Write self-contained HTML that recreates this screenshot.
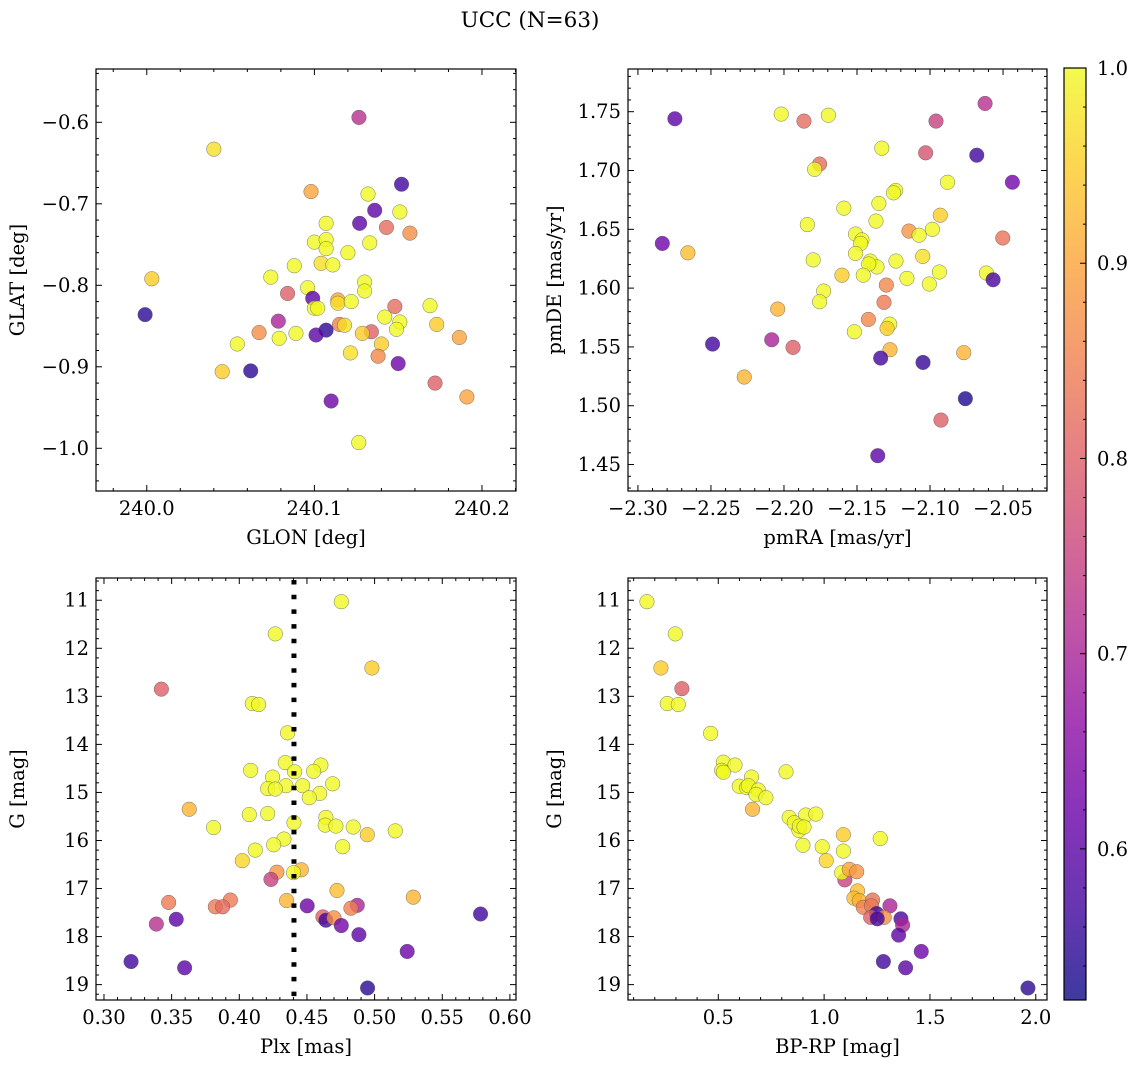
<!DOCTYPE html>
<html><head><meta charset="utf-8"><style>
html,body{margin:0;padding:0;background:#fff;}
svg{display:block;font-family:"DejaVu Serif","Liberation Serif",serif;}
</style></head><body>
<svg id="fig" width="1136" height="1068" viewBox="0 0 1136 1068" xmlns="http://www.w3.org/2000/svg">
<text x="530" y="27" font-size="21.5" text-anchor="middle">UCC (N=63)</text>
</svg>
<script>
// Panel 1: GLON vs GLAT
const glon = [240.1266,240.040,240.098,240.152,240.132,240.136,240.151,240.107,240.127,240.143,240.157,240.100,240.107,240.107,240.133,240.120,240.104,240.111,240.088,240.074,240.003,240.130,240.130,240.096,240.084,240.099,240.114,240.114,240.122,240.100,240.102,240.148,240.169,239.999,240.142,240.151,240.0785,240.173,240.115,240.118,240.107,240.149,240.134,240.1286,240.067,240.101,240.089,240.079,240.1865,240.140,240.054,240.1215,240.138,240.150,240.045,240.062,240.172,240.191,240.110,240.1265];
const glat = [-0.594,-0.633,-0.685,-0.676,-0.688,-0.708,-0.710,-0.724,-0.724,-0.729,-0.736,-0.747,-0.744,-0.755,-0.748,-0.760,-0.773,-0.775,-0.776,-0.790,-0.792,-0.796,-0.807,-0.803,-0.810,-0.816,-0.818,-0.822,-0.820,-0.828,-0.828,-0.826,-0.825,-0.836,-0.839,-0.845,-0.844,-0.848,-0.848,-0.849,-0.855,-0.854,-0.857,-0.859,-0.858,-0.861,-0.859,-0.865,-0.864,-0.872,-0.872,-0.883,-0.887,-0.896,-0.906,-0.905,-0.920,-0.937,-0.942,-0.993];
const prob1 = [0.72,0.97,0.9,0.57,1,0.6,1,1,0.6,0.82,0.87,1,1,1,1,1,0.97,1,1,1,0.95,1,1,1,0.8,0.6,0.9,0.97,1,1,1,0.82,1,0.55,1,1,0.7,0.95,0.85,0.97,0.55,1,0.8,0.95,0.87,0.6,1,1,0.9,0.95,1,0.97,0.86,0.62,0.95,0.55,0.8,0.9,0.62,1];
// Panel 2: pmRA vs pmDE
const pmra = [-2.2747,-2.2019,-2.1863,-2.1696,-2.0623,-2.0959,-2.133,-2.103,-2.068,-2.1756,-2.179,-2.0436,-2.088,-2.1235,-2.125,-2.135,-2.159,-2.093,-2.137,-2.184,-2.0984,-2.1144,-2.1075,-2.151,-2.1466,-2.1475,-2.0502,-2.2833,-2.2658,-2.151,-2.105,-2.180,-2.1409,-2.1233,-2.1363,-2.142,-2.0936,-2.0614,-2.1603,-2.1457,-2.1158,-2.0568,-2.1005,-2.1299,-2.1728,-2.1756,-2.1315,-2.2043,-2.1422,-2.1276,-2.1294,-2.1518,-2.2084,-2.1938,-2.2489,-2.1274,-2.0769,-2.1338,-2.1048,-2.2272,-2.0758,-2.0925,-2.1358];
const pmde = [1.744,1.748,1.742,1.747,1.757,1.742,1.719,1.715,1.713,1.7055,1.701,1.690,1.690,1.683,1.681,1.672,1.668,1.662,1.657,1.654,1.650,1.6485,1.645,1.646,1.641,1.638,1.6426,1.638,1.630,1.6295,1.627,1.624,1.623,1.623,1.618,1.6205,1.6137,1.6128,1.611,1.611,1.6083,1.6071,1.6035,1.6026,1.5975,1.5884,1.5879,1.5822,1.5734,1.5694,1.5658,1.5629,1.5561,1.5496,1.5524,1.5476,1.5451,1.5405,1.5368,1.5244,1.506,1.4878,1.4575];
const prob2 = [0.6,1,0.82,1,0.72,0.75,1,0.78,0.57,0.82,1,0.63,1,1,1,1,1,0.95,1,1,1,0.88,1,1,1,1,0.83,0.62,0.93,1,0.97,1,1,1,1,1,1,1,0.95,1,1,0.58,1,0.86,1,1,0.84,0.92,0.86,1,0.95,1,0.7,0.8,0.57,0.92,0.92,0.57,0.56,0.92,0.54,0.8,0.6];
// Panel 3: Plx vs G
const plx = [0.4754,0.4266,0.498,0.3424,0.4096,0.4143,0.4357,0.434,0.4409,0.4084,0.4603,0.4549,0.4246,0.469,0.4345,0.4468,0.421,0.4266,0.4594,0.4517,0.363,0.4074,0.421,0.4404,0.464,0.4635,0.4714,0.381,0.4842,0.5153,0.4946,0.4764,0.433,0.4254,0.4118,0.4022,0.4278,0.4458,0.4401,0.4234,0.4722,0.435,0.5286,0.3934,0.3478,0.3823,0.3877,0.4502,0.4872,0.4825,0.5783,0.4618,0.464,0.47,0.3534,0.3387,0.4754,0.4884,0.5241,0.32,0.3596,0.4948];
const gmag3 = [11.03,11.70,12.41,12.85,13.15,13.17,13.76,14.38,14.57,14.54,14.43,14.56,14.68,14.82,14.86,14.86,14.92,14.93,15.02,15.11,15.35,15.46,15.44,15.63,15.52,15.68,15.70,15.73,15.72,15.80,15.88,16.13,15.97,16.09,16.20,16.42,16.66,16.61,16.67,16.81,17.04,17.25,17.18,17.24,17.29,17.38,17.38,17.36,17.35,17.41,17.53,17.59,17.66,17.61,17.64,17.74,17.77,17.96,18.31,18.52,18.65,19.07];
const prob3 = [1,1,0.95,0.8,1,1,1,1,1,1,1,1,1,1,1,1,1,1,1,1,0.92,1,1,1,1,1,1,1,1,1,0.95,1,1,1,1,0.96,0.88,0.92,1,0.75,0.93,0.92,0.92,0.84,0.84,0.84,0.82,0.62,0.7,0.85,0.57,0.8,0.57,0.87,0.6,0.72,0.63,0.6,0.62,0.57,0.6,0.55];
const plxLine = [0.4404];
// Panel 4: BP-RP vs G
const bprp = [0.163,0.297,0.229,0.328,0.259,0.311,0.464,0.524,0.579,0.516,0.524,0.82,0.657,0.599,0.634,0.642,0.689,0.678,0.725,0.662,0.835,0.913,0.961,0.859,0.881,0.883,0.905,1.091,1.265,0.9,0.991,1.091,1.01,1.098,1.083,1.119,1.154,1.158,1.141,1.166,1.185,1.229,1.224,1.311,1.248,1.22,1.284,1.251,1.363,1.371,1.352,1.459,1.28,1.385,1.963];
const gmag4 = [11.03,11.70,12.41,12.84,13.15,13.17,13.77,14.37,14.43,14.54,14.58,14.57,14.68,14.87,14.90,14.86,14.95,15.04,15.11,15.35,15.52,15.47,15.45,15.63,15.79,15.70,15.72,15.88,15.96,16.10,16.13,16.22,16.42,16.82,16.67,16.60,16.65,17.05,17.20,17.25,17.39,17.24,17.36,17.36,17.52,17.60,17.60,17.63,17.63,17.76,17.97,18.31,18.52,18.65,19.07];
const prob4 = [1,1,0.95,0.8,1,1,1,1,1,1,1,1,1,1,1,1,1,1,1,0.92,1,1,1,1,1,1,1,0.95,1,1,1,1,0.96,0.75,1,0.9,0.88,0.93,0.93,0.92,0.85,0.83,0.84,0.7,0.57,0.8,0.87,0.57,0.58,0.7,0.6,0.62,0.57,0.6,0.55];
// Tick labels
const ticks1x = [240.0,240.1,240.2]; const labels1x = ["240.0","240.1","240.2"];
const ticks1y = [-0.6,-0.7,-0.8,-0.9,-1.0]; const labels1y = ["\u22120.6","\u22120.7","\u22120.8","\u22120.9","\u22121.0"];
const ticks2x = [-2.30,-2.25,-2.20,-2.15,-2.10,-2.05]; const labels2x = ["\u22122.30","\u22122.25","\u22122.20","\u22122.15","\u22122.10","\u22122.05"];
const ticks2y = [1.45,1.50,1.55,1.60,1.65,1.70,1.75]; const labels2y = ["1.45","1.50","1.55","1.60","1.65","1.70","1.75"];
const ticks3x = [0.30,0.35,0.40,0.45,0.50,0.55,0.60]; const labels3x = ["0.30","0.35","0.40","0.45","0.50","0.55","0.60"];
const ticksG = [11,12,13,14,15,16,17,18,19]; const labelsG = ["11","12","13","14","15","16","17","18","19"];
const ticks4x = [0.5,1.0,1.5,2.0]; const labels4x = ["0.5","1.0","1.5","2.0"];
const cbTicks = [0.6,0.7,0.8,0.9,1.0]; const cbLabels = ["0.6","0.7","0.8","0.9","1.0"];

const NS = "http://www.w3.org/2000/svg";
const svg = document.getElementById('fig');
const FS = 19.5;
const VMIN = 0.5226, VMAX = 1.0;
const stops = ["#0d0887","#41049d","#6a00a8","#8f0da4","#b12a90","#cc4778","#e16462","#f2844b","#fca636","#fcce25","#f0f921"];
function hex(h){return [1,3,5].map(i=>parseInt(h.substr(i,2),16));}
function cmap(v){
  let t=(v-VMIN)/(VMAX-VMIN); t=Math.max(0,Math.min(1,t));
  const p=t*10, i=Math.min(9,Math.floor(p)), f=p-i;
  const a=hex(stops[i]), b=hex(stops[i+1]);
  return 'rgb('+a.map((c,k)=>Math.round(c+(b[k]-c)*f)).join(',')+')';
}
function mk(tag, attrs, parent){
  const e=document.createElementNS(NS,tag);
  for(const k in attrs) e.setAttribute(k,attrs[k]);
  (parent||svg).appendChild(e); return e;
}
function panel(name, box, xr, yr, xt, xl, yt, yl, xmin, ymin, xs, ys, cs, xlabel, ylabel, ylabX){
  const g=mk('g',{});
  
  
  const sx=v=>box.x0+(v-xr[0])/(xr[1]-xr[0])*(box.x1-box.x0);
  const sy=v=>box.y1-(v-yr[0])/(yr[1]-yr[0])*(box.y1-box.y0);
  const pts=mk('g',{},g);
  
  
  for(let i=0;i<xs.length;i++){
    const c=mk('circle',{cx:sx(xs[i]),cy:sy(ys[i]),r:7.3,fill:cmap(cs[i]),'fill-opacity':0.8,stroke:'#555','stroke-width':0.5,'stroke-opacity':0.8},pts);
    
    
  }
  const fr=mk('rect',{x:box.x0,y:box.y0,width:box.x1-box.x0,height:box.y1-box.y0,fill:'none',stroke:'#000','stroke-width':1.2},g);
  
  
  const tk=mk('g',{stroke:'#000','stroke-width':1},g);
  
  
  const lo=Math.min(xr[0],xr[1]), hi=Math.max(xr[0],xr[1]);
  for(let v=Math.ceil(lo/xmin-1e-6)*xmin; v<=hi+1e-9; v+=xmin){
    const X=sx(v); const maj=xt.some(t=>Math.abs(t-v)<xmin/10); const L=maj?6:3;
    mk('line',{x1:X,x2:X,y1:box.y1,y2:box.y1-L},tk); mk('line',{x1:X,x2:X,y1:box.y0,y2:box.y0+L},tk);
  }
  const ylo=Math.min(yr[0],yr[1]), yhi=Math.max(yr[0],yr[1]);
  for(let v=Math.ceil(ylo/ymin-1e-6)*ymin; v<=yhi+1e-9; v+=ymin){
    const Y=sy(v); const maj=yt.some(t=>Math.abs(t-v)<ymin/10); const L=maj?6:3;
    mk('line',{y1:Y,y2:Y,x1:box.x0,x2:box.x0+L},tk); mk('line',{y1:Y,y2:Y,x1:box.x1,x2:box.x1-L},tk);
  }
  xt.forEach((t,i)=>{const e=mk('text',{x:sx(t),y:box.y1+24,'font-size':FS,'text-anchor':'middle'},g); e.textContent=xl[i];
    
    });
  yt.forEach((t,i)=>{const e=mk('text',{x:box.x0-7,y:sy(t)+6.5,'font-size':FS,'text-anchor':'end'},g); e.textContent=yl[i];
    
    });
  const xa=mk('text',{x:(box.x0+box.x1)/2,y:box.y1+53,'font-size':FS,'text-anchor':'middle'},g); xa.textContent=xlabel;
  
  
  const cy=(box.y0+box.y1)/2;
  const ya=mk('text',{x:ylabX,y:cy,'font-size':FS,'text-anchor':'middle',transform:'rotate(-90 '+ylabX+' '+cy+')'},g); ya.textContent=ylabel;
  
  
  return {sx,sy,g};
}
const TOP={y0:69,y1:491}, BOT={y0:578,y1:1000};
panel('glon-glat-panel',{x0:96,x1:516,...TOP},[239.9697,240.2203],[-1.0524,-0.5346],ticks1x,labels1x,ticks1y,labels1y,0.02,0.02,glon,glat,prob1,'GLON [deg]','GLAT [deg]',24);
panel('pm-panel',{x0:628,x1:1047,...TOP},[-2.3068,-2.0199],[1.4275,1.7863],ticks2x,labels2x,ticks2y,labels2y,0.01,0.01,pmra,pmde,prob2,'pmRA [mas/yr]','pmDE [mas/yr]',561);
const p3=panel('plx-g-panel',{x0:96,x1:516,...BOT},[0.2941,0.6045],[19.32,10.537],ticks3x,labels3x,ticksG,labelsG,0.01,0.2,plx,gmag3,prob3,'Plx [mas]','G [mag]',24);
panel('cmd-panel',{x0:628,x1:1047,...BOT},[0.0735,2.053],[19.32,10.537],ticks4x,labels4x,ticksG,labelsG,0.1,0.2,bprp,gmag4,prob4,'BP-RP [mag]','G [mag]',561);
// plx reference line
const pl=mk('line',{x1:p3.sx(plxLine[0]),x2:p3.sx(plxLine[0]),y1:580,y2:1000,stroke:'#000','stroke-width':5,'stroke-dasharray':'4.5 10.2'},p3.g);


// colorbar
const cb=mk('g',{});


const defs=mk('defs',{},cb);
const lg=mk('linearGradient',{id:'pl',x1:0,y1:1,x2:0,y2:0},defs);
stops.forEach((s,i)=>mk('stop',{offset:i/10,'stop-color':s},lg));
const CB={x0:1064,x1:1086,y0:68,y1:1000};
const cbr=mk('rect',{x:CB.x0,y:CB.y0,width:CB.x1-CB.x0,height:CB.y1-CB.y0,fill:'url(#pl)','fill-opacity':0.8},cb);


mk('rect',{x:CB.x0,y:CB.y0,width:CB.x1-CB.x0,height:CB.y1-CB.y0,fill:'none',stroke:'#000','stroke-width':1.2},cb);
const cy=v=>CB.y1-(v-VMIN)/(VMAX-VMIN)*(CB.y1-CB.y0);
for(let v=0.54; v<=1.0001; v+=0.02){
  const maj=cbTicks.some(t=>Math.abs(t-v)<0.002); const L=maj?6:3;
  mk('line',{x1:CB.x1,x2:CB.x1-L,y1:cy(v),y2:cy(v),stroke:'#000','stroke-width':1},cb);
}
cbTicks.forEach((t,i)=>{const e=mk('text',{x:1097,y:cy(t)+7,'font-size':FS},cb); e.textContent=cbLabels[i];
  
  });
</script>
</body></html>
